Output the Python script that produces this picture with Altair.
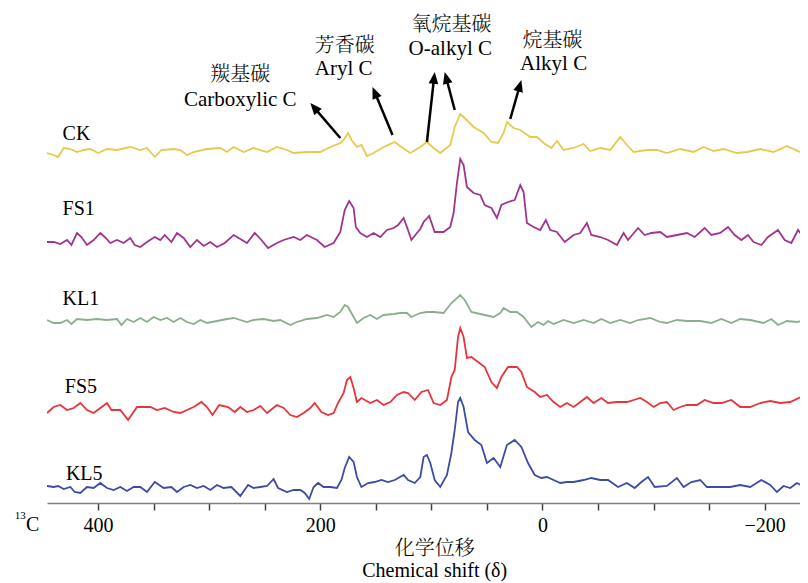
import math
import altair as alt
import pandas as pd

# ---------------- data ----------------
SAMPLES = ["CK", "FS1", "KL1", "FS5", "KL5"]
COLORS = ["#E8C94C", "#A1338E", "#8CAE8C", "#E8333B", "#3C4BA6"]
OFFSETS = [351, 261, 183, 93, 15]          # vertical stacking offsets (a.u.)
LABEL_SHIFT = [432, 432, 432, 430, 429]
LABEL_Y = [363, 288, 198, 110, 23]

ck_shift = [446, 440, 436, 431, 425, 419, 413, 407, 400, 392, 383, 371, 362, 356, 349, 343,
            332, 326, 320, 314, 302, 290, 284, 278, 269, 260, 248, 239, 230, 224, 212, 200,
            191, 182, 179, 175, 172, 167, 163, 158, 152, 143, 133, 127, 119, 110, 104, 98,
            92, 83, 79, 74, 70, 62, 53, 46, 40, 35, 32, 26, 20, 11, 5, -1, -8, -13, -19,
            -28, -37, -43, -52, -61, -70, -76, -82, -94, -103, -112, -124, -136, -145, -154,
            -163, -175, -184, -196, -208, -220, -232, -239]
ck_int = [-1, -3, -5, 4, 3, 0, 2, 3, -1, 3, 2, 5, 2, 4, -5, 2,
          3, 2, -3, 0, 3, 4, 0, 5, 0, 4, 0, 5, 2, -1, 0, 0,
          5, 9, 12, 19, 12, 5, 7, -4, -1, 5, 10, 5, -1, 5, 10, 4,
          -1, 7, 25, 38, 34, 25, 19, 10, 9, 19, 30, 24, 22, 15, 15, 9, 4, 11, 2,
          4, 8, 1, 4, 2, 15, 7, 0, 2, 2, -1, 3, 0, 5, 1,
          3, -1, 0, 3, 0, 6, 0, 5]

fs1_shift = [446, 440, 434, 428, 424, 419, 415, 410, 404, 398, 394, 389, 383, 377, 371, 367,
             362, 356, 349, 344, 340, 334, 329, 323, 317, 311, 305, 299, 293, 286, 278, 272,
             266, 259, 253, 247, 239, 233, 224, 218, 212, 203, 196, 188, 182, 178, 174, 170,
             168, 164, 158, 152, 146, 140, 134, 130, 125, 122, 118, 113, 110, 107, 102, 97,
             89, 83, 80, 77, 74, 71, 68, 62, 56, 52, 46, 41, 37, 31, 25, 20, 17, 14, 8, 2,
             -3, -7, -13, -20, -28, -34, -40, -44, -52, -59, -67, -73, -77, -86, -92, -98,
             -106, -112, -121, -130, -137, -146, -152, -160, -167, -173, -179, -185, -190,
             -197, -203, -212, -218, -224, -230, -235, -239]
fs1_int = [0, 0, -2, 2, -3, 9, 5, -3, 2, 9, 5, -1, 2, -1, 4, -3,
           -5, 0, 5, 2, 7, 0, 9, 4, -5, 2, -4, 0, -5, -1, 7, 3,
           -1, 9, 2, -6, -1, 2, 5, 2, 7, 2, -5, -1, 10, 32, 41, 34,
           15, 9, 5, 9, 5, 12, 14, 17, 24, 15, 2, 9, 13, 20, 26, 10,
           10, 15, 29, 59, 83, 77, 55, 49, 47, 37, 34, 24, 37, 40, 42, 57, 50, 19, 15, 12,
           22, 12, 10, 0, 7, 9, 19, 7, 5, 2, -3, 9, 2, 14, 7, 9,
           10, 5, 7, 9, 5, 14, 7, 9, 15, 7, 2, 7, 0,
           -3, 5, 12, 2, -1, 12, 5, 10]

kl1_shift = [446, 440, 434, 428, 424, 419, 410, 401, 392, 383, 379, 374, 368, 362, 356, 350,
             344, 338, 332, 326, 320, 314, 308, 302, 293, 284, 278, 272, 266, 260, 251, 242,
             236, 227, 221, 212, 203, 194, 188, 182, 178, 175, 170, 167, 161, 155, 149, 143,
             134, 128, 122, 118, 110, 104, 98, 89, 82, 74, 70, 64, 56, 44, 38, 35, 29, 23,
             17, 10, 4, -1, -5, -10, -19, -28, -37, -46, -53, -61, -70, -79, -86, -97, -106,
             -112, -121, -130, -142, -152, -161, -170, -178, -187, -199, -206, -212, -220,
             -229, -239]
kl1_int = [0, -3, -3, 0, -4, 1, 0, 1, 0, 1, -5, 1, -2, 2, -2, 3,
           0, 2, -2, 2, -2, -4, 0, -3, -1, 1, 2, 0, -2, 0, 1, -1,
           0, -5, -2, 1, 2, 5, 3, 8, 15, 13, 3, -3, 2, 5, 1, 5,
           6, 7, 7, 3, 7, 8, 8, 7, 17, 25, 20, 8, 6, 3, 7, 12, 8, 8,
           3, -7, -2, -5, -1, -4, 0, -3, 0, -3, 1, -3, 0, -3, 0, 2, -2,
           -3, 0, -1, -1, -3, 1, -3, 1, 0, -3, 1, -5, -1,
           -2, 0]

fs5_shift = [446, 440, 434, 428, 422, 416, 410, 404, 398, 392, 388, 380, 373, 365, 359, 353,
             347, 340, 332, 326, 320, 314, 307, 302, 297, 291, 283, 277, 272, 266, 260, 254,
             248, 239, 233, 227, 221, 215, 209, 205, 199, 193, 188, 184, 179, 176, 173, 170,
             167, 163, 155, 149, 143, 137, 131, 125, 121, 115, 109, 103, 98, 92, 86, 82, 79,
             76, 74, 71, 68, 64, 58, 52, 46, 41, 37, 31, 23, 19, 14, 7, 2, -4, -10, -16, -22,
             -28, -34, -40, -46, -53, -59, -67, -76, -82, -88, -94, -100, -106, -112, -118,
             -124, -130, -139, -146, -154, -161, -170, -178, -187, -196, -205, -214, -223,
             -233, -239]
fs5_int = [-3, 3, 5, 0, 2, 7, 0, -3, 2, 7, 0, 0, -10, 3, 3, 3,
           0, 2, -2, -3, 0, 3, 8, 3, -5, 5, 3, -2, 3, -2, 0, 4,
           -3, 5, 2, -5, -7, -3, 2, 7, -2, -5, -3, 7, 17, 30, 33, 22,
           8, 12, 7, 10, 5, 8, 15, 18, 17, 10, 18, 20, 7, 5, 10, 33, 40,
           73, 82, 73, 52, 53, 48, 43, 28, 22, 33, 43, 43, 38, 23, 18, 13, 15, 8, 3, 7,
           3, 8, 13, 7, 12, 7, 8, 8, 10, 12, 8, 3, 7, 8, 0,
           3, 5, 5, 10, 7, 7, 10, 3, 3, 7, 9, 7, 8,
           13, 5]

kl5_shift = [446, 440, 436, 431, 425, 421, 416, 410, 404, 398, 392, 386, 380, 374, 368, 362,
             356, 349, 341, 334, 329, 323, 317, 311, 305, 299, 293, 287, 280, 272, 265, 260,
             254, 248, 242, 238, 230, 224, 218, 214, 210, 206, 202, 197, 191, 185, 181, 178,
             174, 170, 167, 163, 157, 151, 145, 139, 133, 125, 121, 115, 110, 107, 104, 101,
             97, 92, 86, 82, 79, 76, 74, 71, 67, 61, 55, 50, 44, 38, 32, 25, 19, 13, 7, 1,
             -4, -10, -16, -22, -28, -37, -44, -52, -59, -68, -76, -83, -89, -95, -101, -112,
             -121, -127, -134, -142, -148, -158, -169, -178, -187, -197, -205, -211, -217,
             -223, -229, -239]
kl5_int = [2, 1, 2, -1, 1, -4, -5, 1, 0, 5, 0, -2, 1, -3, 1, 1,
           -4, 6, 0, 1, -4, 1, 3, 0, 2, -2, 3, 0, 1, -8, 3, 0,
           1, 2, 9, 0, -4, -2, -2, -5, -11, 1, 5, 1, 1, 0, 8, 20,
           31, 26, 11, 1, 5, 6, 8, 6, 8, 13, 8, 5, 11, 31, 33, 25,
           8, 1, 13, 35, 58, 86, 90, 81, 56, 48, 43, 25, 30, 21, 43, 48, 41, 25, 13, 10,
           11, 8, 5, 6, 6, 8, 10, 8, 8, 1, 5, 0, 6, 11, 1, 2,
           10, 1, 6, 8, 1, 1, 1, 3, 1, 8, 3, -4, 2,
           0, 5, 0]

SHIFTS = [ck_shift, fs1_shift, kl1_shift, fs5_shift, kl5_shift]
INTENSITIES = [ck_int, fs1_int, kl1_int, fs5_int, kl5_int]

TICK_VALUES = [400, 350, 300, 250, 200, 150, 100, 50, 0, -50, -100, -150, -200]

# annotations: (text, shift, y)
ANN_CN = [("羰基碳", 272, 428), ("芳香碳", 178, 457), ("氧烷基碳", 82, 478), ("烷基碳", -9, 462)]
ANN_EN = [("Carboxylic C", 272, 397), ("Aryl C", 179, 428), ("O-alkyl C", 83, 448), ("Alkyl C", -10, 433)]
# arrows: tail (shift, y) -> head (shift, y)
ARROWS = [(182, 365, 209, 400), (135, 368, 153, 416), (104, 361, 97, 431),
          (79, 393, 88, 431), (29, 384, 19, 423)]

# ---------------- layout ----------------
PAD_TOP = 6
W, H = 753, 489
X_DOMAIN = [446, -231.8]
Y_DOMAIN = [0, 489]
k = W / (X_DOMAIN[0] - X_DOMAIN[1])   # px per ppm
ky = H / (Y_DOMAIN[1] - Y_DOMAIN[0])

SERIF = "'Liberation Serif', 'Times New Roman', Times, serif"
CJK = "'Noto Serif CJK SC', 'Noto Sans CJK SC', serif"

rows = []
for name, sh, iv, off in zip(SAMPLES, SHIFTS, INTENSITIES, OFFSETS):
    for s, v in zip(sh, iv):
        rows.append({"sample": name, "shift": s, "y": off + v})
df = pd.DataFrame(rows)

lab_df = pd.DataFrame({"text": SAMPLES, "shift": LABEL_SHIFT, "y": LABEL_Y})
cn_df = pd.DataFrame(ANN_CN, columns=["text", "shift", "y"])
en_df = pd.DataFrame(ANN_EN, columns=["text", "shift", "y"])

arr_rows = []
for ts, ty, hs, hy in ARROWS:
    dx = -(hs - ts) * k
    dy = -(hy - ty) * ky
    L = math.hypot(dx, dy)
    ux, uy = dx / L, dy / L
    back = 9
    arr_rows.append({
        "ts": ts, "ty": ty, "hs": hs, "hy": hy,
        "es": hs + back * ux / k, "ey": hy + back * uy / ky,
        "angle": math.degrees(math.atan2(dx, -dy)) % 360,
    })
arr_df = pd.DataFrame(arr_rows)

title_df = pd.DataFrame({"text": ["化学位移"], "shift": [97], "y": [-46]})
title2_df = pd.DataFrame({"text": ["Chemical shift (δ)"], "shift": [97], "y": [-74]})
c13_df = pd.DataFrame({"text": ["13"], "shift": [475], "y": [-16]})
c_df = pd.DataFrame({"text": ["C"], "shift": [465], "y": [-28]})

xs = alt.Scale(domain=X_DOMAIN, nice=False, zero=False)
ys = alt.Scale(domain=Y_DOMAIN, nice=False, zero=False)

lines = alt.Chart(df).mark_line(strokeWidth=1.8, clip=True).encode(
    x=alt.X("shift:Q", scale=xs,
            axis=alt.Axis(values=TICK_VALUES, title=None, grid=False,
                          labelExpr="datum.value % 200 === 0 ? datum.label : ''",
                          labelFont=SERIF, labelFontSize=20, labelColor="black",
                          labelBaseline="alphabetic", labelPadding=21,
                          tickSize=7, tickWidth=1.5, tickColor="#404040",
                          domainColor="#808080", domainWidth=1.5, labelFlush=False)),
    y=alt.Y("y:Q", scale=ys, axis=None),
    color=alt.Color("sample:N", scale=alt.Scale(domain=SAMPLES, range=COLORS), legend=None),
)

def text_layer(data, font, size, align="center", baseline="alphabetic", weight="normal"):
    return alt.Chart(data).mark_text(font=font, fontSize=size, align=align,
                                     baseline=baseline, color="black", fontWeight=weight).encode(
        x=alt.X("shift:Q", scale=xs), y=alt.Y("y:Q", scale=ys), text="text:N")

labels = text_layer(lab_df, SERIF, 20, align="left")
cn = text_layer(cn_df, CJK, 20, baseline="middle", weight=300)
en = text_layer(en_df, SERIF, 21)
t1 = text_layer(title_df, CJK, 20, baseline="middle", weight=300)
t2 = text_layer(title2_df, SERIF, 20)
c13 = text_layer(c13_df, SERIF, 11, align="left")
cc = text_layer(c_df, SERIF, 20, align="left")

rules = alt.Chart(arr_df).mark_rule(color="black", strokeWidth=2.5).encode(
    x=alt.X("ts:Q", scale=xs), y=alt.Y("ty:Q", scale=ys), x2="es:Q", y2="ey:Q")
heads = alt.Chart(arr_df).mark_point(shape="M0,0L0.7,1.7L-0.7,1.7Z", size=196, filled=True,
                                     color="black", opacity=1, strokeWidth=0).encode(
    x=alt.X("hs:Q", scale=xs), y=alt.Y("hy:Q", scale=ys),
    angle=alt.Angle("angle:Q", scale=None))

chart = alt.layer(lines, labels, cn, en, rules, heads, t1, t2, c13, cc).properties(
    width=W, height=H,
    autosize=alt.AutoSizeParams(type="none"),
    padding={"left": 39, "top": PAD_TOP, "right": 0, "bottom": 80},
    background="white",
).configure_view(stroke=None)

chart.save("out.html", embed_options={"renderer": "svg", "actions": False})
